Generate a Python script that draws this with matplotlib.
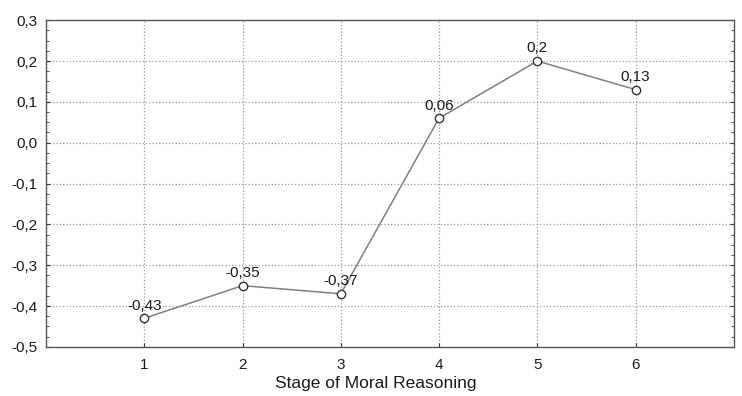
import numpy as np
import matplotlib.pyplot as plt
from matplotlib.ticker import MultipleLocator, FuncFormatter

plt.rcParams['font.family'] = ['Liberation Sans', 'DejaVu Sans']

stages = [1, 2, 3, 4, 5, 6]
values = [-0.43, -0.35, -0.37, 0.06, 0.2, 0.13]
point_labels = ['-0,43', '-0,35', '-0,37', '0,06', '0,2', '0,13']

fig = plt.figure(figsize=(7.42, 3.96), dpi=100)
ax = fig.add_axes([0.062, 0.124, 0.927, 0.825])

ax.plot(stages, values, color='#808080', lw=1.1, marker='o', ms=6,
        mfc='white', mec='#333333', mew=1.0, zorder=3)

for x, y, s in zip(stages, values, point_labels):
    ax.annotate(s, (x, y), xytext=(0, 4), textcoords='offset points',
                ha='center', va='bottom', fontsize=11, color='#1a1a1a')

ax.set_xlim(0, 7)
ax.set_ylim(-0.5, 0.3)
ax.set_xticks(stages)
ax.yaxis.set_major_locator(MultipleLocator(0.1))
ax.yaxis.set_minor_locator(MultipleLocator(0.025))
ax.yaxis.set_major_formatter(FuncFormatter(lambda v, p: ('%.1f' % v).replace('.', ',').replace('-0,0', '0,0')))

ax.grid(True, which='major', ls=':', color='#999999', lw=0.9)
ax.tick_params(axis='both', which='both', direction='in', labelsize=11,
               colors='#333333', labelcolor='#1a1a1a')
ax.tick_params(axis='y', which='major', length=3, right=True, pad=6)
ax.tick_params(axis='y', which='minor', length=2, right=True)
ax.tick_params(axis='x', length=3, pad=8)
for sp in ax.spines.values():
    sp.set_color('#555555')
    sp.set_linewidth(1.0)

ax.set_xlabel('Stage of Moral Reasoning', fontsize=12.5, color='#1a1a1a')
ax.xaxis.set_label_coords(0.48, -0.09, transform=ax.transAxes)
ax.xaxis.label.set_va('top')

fig.savefig('out.png', dpi=100)
